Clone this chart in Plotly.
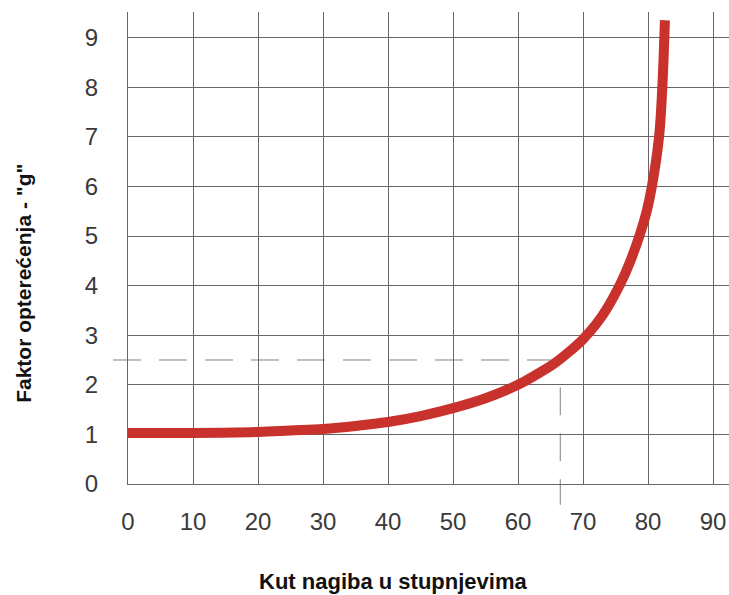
import plotly.graph_objects as go

# Data
angles = [0, 10, 20, 25, 30, 35, 40, 45, 50, 55, 60, 62.5, 65.5, 68, 70, 72, 73.5, 75.8, 77.3, 78.8, 79.8, 80.6, 81.7, 82.2, 82.6]
g_factor = [1.03, 1.03, 1.05, 1.08, 1.11, 1.17, 1.25, 1.37, 1.53, 1.73, 2.0, 2.18, 2.42, 2.68, 2.92, 3.22, 3.5, 4.05, 4.5, 5.05, 5.5, 6.0, 7.0, 8.0, 9.35]

x_ticks = [0, 10, 20, 30, 40, 50, 60, 70, 80, 90]
y_ticks = [0, 1, 2, 3, 4, 5, 6, 7, 8, 9]

ref_angle = 66.5
ref_g = 2.5
ref_h_start = -2.3
ref_h_end = 65
ref_v_top = 1.95
ref_v_bottom = -0.42

x_range = [0, 92.46]
y_range = [0, 9.516]

def px(v):
    return (v - x_range[0]) / (x_range[1] - x_range[0])

def py(v):
    return (v - y_range[0]) / (y_range[1] - y_range[0])

FONT = "Liberation Sans, Arial, sans-serif"
GRID = "#666666"

fig = go.Figure()
fig.add_trace(go.Scatter(
    x=angles, y=g_factor, mode="lines",
    line=dict(color="#c8312c", width=10, shape="spline", smoothing=1.0),
    hoverinfo="skip", showlegend=False,
))

dash = "28px,18px"
fig.add_shape(type="line", xref="paper", yref="paper",
              x0=px(ref_h_start), x1=px(ref_h_end), y0=py(ref_g), y1=py(ref_g),
              line=dict(color="#808080", width=1, dash=dash), layer="below")
fig.add_shape(type="line", xref="paper", yref="paper",
              x0=px(ref_angle), x1=px(ref_angle), y0=py(ref_v_top), y1=py(ref_v_bottom),
              line=dict(color="#808080", width=1, dash=dash), layer="below")

fig.update_layout(
    width=729, height=595,
    margin=dict(l=128, r=0, t=12, b=111),
    paper_bgcolor="white", plot_bgcolor="white",
    showlegend=False,
    xaxis=dict(
        range=x_range, tickvals=x_ticks, ticktext=[str(v) for v in x_ticks],
        showgrid=True, gridcolor=GRID, gridwidth=1,
        showline=True, linecolor=GRID, linewidth=1,
        zeroline=False,
        ticks="outside", ticklen=16, tickcolor="rgba(0,0,0,0)",
        tickfont=dict(family=FONT, size=24, color="#3a3a3a"),
        fixedrange=True,
    ),
    yaxis=dict(
        range=y_range, tickvals=y_ticks, ticktext=[str(v) for v in y_ticks],
        showgrid=True, gridcolor=GRID, gridwidth=1,
        showline=True, linecolor=GRID, linewidth=1,
        zeroline=False,
        ticks="outside", ticklen=24, tickcolor="rgba(0,0,0,0)",
        tickfont=dict(family=FONT, size=24, color="#3a3a3a"),
        fixedrange=True,
    ),
    annotations=[
        dict(text="<b>Kut nagiba u stupnjevima</b>", xref="paper", yref="paper",
             x=0.441, y=-0.2076, xanchor="center", yanchor="middle", showarrow=False,
             font=dict(family=FONT, size=22, color="#111111")),
        dict(text="<b>Faktor opterećenja - \"g\"</b>", xref="paper", yref="paper",
             x=-0.174, y=0.425, xanchor="center", yanchor="middle", showarrow=False,
             textangle=-90, font=dict(family=FONT, size=21, color="#111111")),
    ],
)

fig.write_html("out.html", config={"displayModeBar": False},
               post_script="document.body.style.margin='0';document.body.style.padding='0';")
